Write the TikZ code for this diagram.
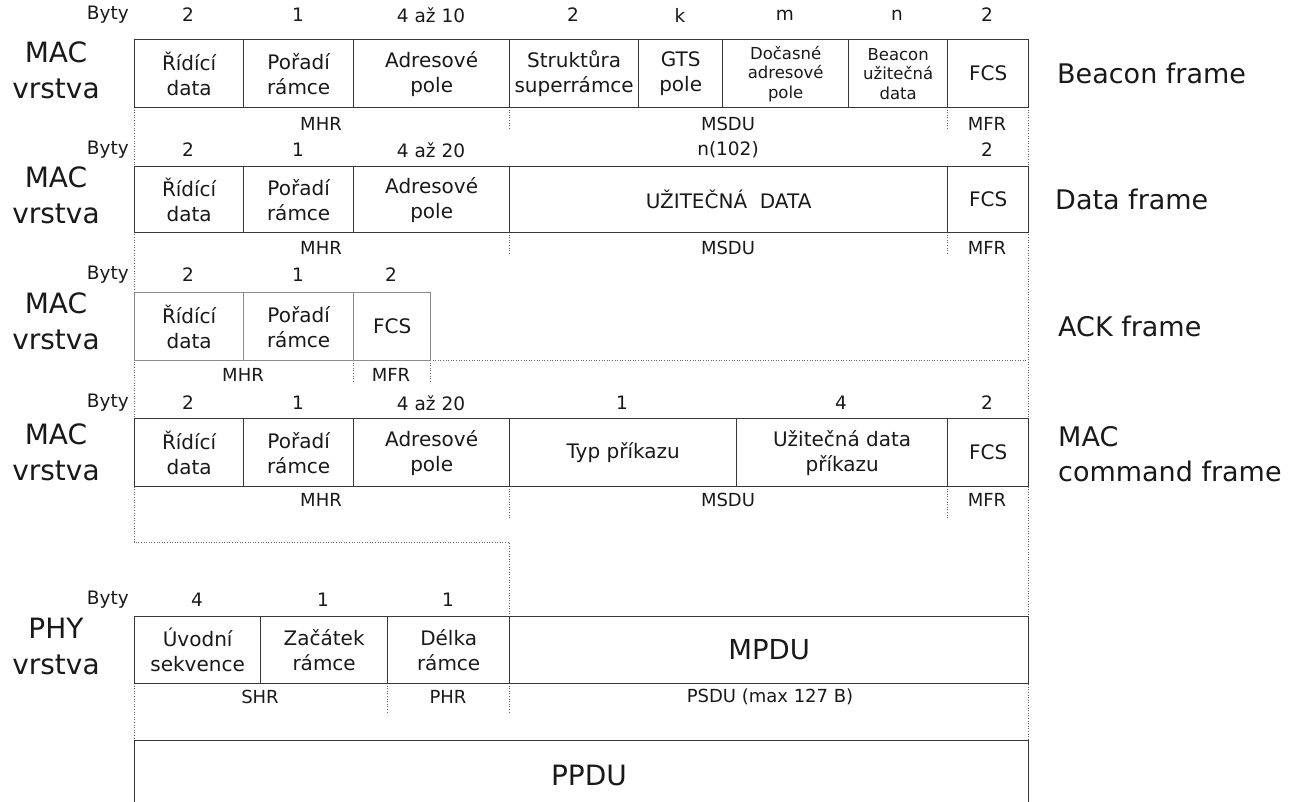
\documentclass[tikz,border=0pt]{standalone}
\usepackage{fontspec}
\setmainfont{DejaVu Sans}
\tikzset{
  fld/.style={draw=black!78, line width=1.3pt, inner sep=0pt, align=center,
    font=\fontsize{20}{25}\selectfont, anchor=north west, text=black!90},
  numtxt/.style={font=\fontsize{18.5}{20}\selectfont, inner sep=0pt, text=black!90},
  labtxt/.style={font=\fontsize{18}{20}\selectfont, inner sep=0pt, text=black!90},
  layer/.style={font=\fontsize{28}{36}\selectfont, align=center, inner sep=0pt, text=black!90},
  side/.style={font=\fontsize{27}{35}\selectfont, align=left, anchor=west, inner sep=0pt, text=black!90},
  guide/.style={draw=black!60, line width=1pt, dash pattern=on 1pt off 1.6pt},
  smallfld/.style={font=\fontsize{16.5}{19.5}\selectfont},
  bigfld/.style={font=\fontsize{27.5}{30}\selectfont},
}
\newcommand\fieldbox[7][]{%
  \pgfmathsetmacro\fw{#4-#3}\pgfmathsetmacro\fh{#6-#5}%
  \node[fld,#1,minimum width=\fw pt,minimum height=\fh pt] (#2) at (#3,#5) {#7};}
\begin{document}
\begin{tikzpicture}[x=1pt,y=-1pt]
\useasboundingbox (0,0) rectangle (1290,801);

% ---------- dotted guide lines ----------
\coordinate (gL1) at (134,107);
\coordinate (gL2) at (134,542);
\coordinate (gL3) at (509,542);
\coordinate (gL4) at (509,616);
\draw[guide] (gL1) -- (gL2) -- (gL3) -- (gL4);
\coordinate (gR1) at (1028,107);
\coordinate (gR2) at (1028,740);
\draw[guide] (gR1) -- (gR2);
\coordinate (gA1) at (430,360);
\coordinate (gA2) at (1028,360);
\draw[guide] (gA1) -- (gA2);
\draw[guide] (353,360) -- (353,382);
\draw[guide] (430,360) -- (430,382);
\draw[guide] (509,107) -- (509,130);
\draw[guide] (947,107) -- (947,130);
\draw[guide] (509,232) -- (509,255);
\draw[guide] (947,232) -- (947,255);
\draw[guide] (509,486) -- (509,518);
\draw[guide] (947,486) -- (947,518);
\draw[guide] (134,683) -- (134,740);
\draw[guide] (387,683) -- (387,713);
\draw[guide] (509,683) -- (509,713);

% ---------- Beacon frame ----------
\node[numtxt,anchor=east] (by1) at (129,15) {Byty};
\node[numtxt] (n11) at (188,15) {2};
\node[numtxt] (n12) at (298,15) {1};
\node[numtxt] (n13) at (431,15) {4 až 10};
\node[numtxt] (n14) at (573,15) {2};
\node[numtxt] (n15) at (680,15) {k};
\node[numtxt] (n16) at (785,15) {m};
\node[numtxt] (n17) at (897,15) {n};
\node[numtxt] (n18) at (987,15) {2};
\node[layer] (L1) at (56,70) {MAC\\vrstva};
\fieldbox{a1}{134}{243}{39}{107}{Řídící\\data}
\fieldbox{a2}{243}{353}{39}{107}{Pořadí\\rámce}
\fieldbox{a3}{353}{509}{39}{107}{Adresové\\pole}
\fieldbox{a4}{509}{638}{39}{107}{Struktůra\\superrámce}
\fieldbox{a5}{638}{722}{39}{107}{GTS\\pole}
\fieldbox[smallfld]{a6}{722}{848}{39}{107}{Dočasné\\adresové\\pole}
\fieldbox[smallfld]{a7}{848}{947}{39}{107}{Beacon\\užitečná\\data}
\fieldbox{a8}{947}{1028}{39}{107}{FCS}
\node[labtxt] (m11) at (321,124) {MHR};
\node[labtxt] (m12) at (728,124) {MSDU};
\node[labtxt] (m13) at (987,124) {MFR};
\node[side] (s1) at (1057,73) {Beacon frame};

% ---------- Data frame ----------
\node[numtxt,anchor=east] (by2) at (129,150) {Byty};
\node[numtxt] (n21) at (188,150) {2};
\node[numtxt] (n22) at (298,150) {1};
\node[numtxt] (n23) at (431,150) {4 až 20};
\node[numtxt] (n24) at (728,150) {n(102)};
\node[numtxt] (n25) at (987,150) {2};
\node[layer] (L2) at (56,195) {MAC\\vrstva};
\fieldbox{b1}{134}{243}{166}{232}{Řídící\\data}
\fieldbox{b2}{243}{353}{166}{232}{Pořadí\\rámce}
\fieldbox{b3}{353}{509}{166}{232}{Adresové\\pole}
\fieldbox{b4}{509}{947}{166}{232}{UŽITEČNÁ\ \ DATA}
\fieldbox{b5}{947}{1028}{166}{232}{FCS}
\node[labtxt] (m21) at (321,248) {MHR};
\node[labtxt] (m22) at (728,248) {MSDU};
\node[labtxt] (m23) at (987,248) {MFR};
\node[side] (s2) at (1055,199) {Data frame};

% ---------- ACK frame ----------
\node[numtxt,anchor=east] (by3) at (129,275) {Byty};
\node[numtxt] (n31) at (188,275) {2};
\node[numtxt] (n32) at (298,275) {1};
\node[numtxt] (n33) at (391,275) {2};
\node[layer] (L3) at (56,321) {MAC\\vrstva};
\fieldbox[draw=black!45]{c1}{134}{243}{292}{360}{Řídící\\data}
\fieldbox[draw=black!45]{c2}{243}{353}{292}{360}{Pořadí\\rámce}
\fieldbox[draw=black!45]{c3}{353}{430}{292}{360}{FCS}
\node[labtxt] (m31) at (243,375) {MHR};
\node[labtxt] (m32) at (391,375) {MFR};
\node[side] (s3) at (1058,326) {ACK frame};

% ---------- MAC command frame ----------
\node[numtxt,anchor=east] (by4) at (129,403) {Byty};
\node[numtxt] (n41) at (188,403) {2};
\node[numtxt] (n42) at (298,403) {1};
\node[numtxt] (n43) at (431,403) {4 až 20};
\node[numtxt] (n44) at (622,403) {1};
\node[numtxt] (n45) at (841,403) {4};
\node[numtxt] (n46) at (987,403) {2};
\node[layer] (L4) at (56,452) {MAC\\vrstva};
\fieldbox{d1}{134}{243}{418}{486}{Řídící\\data}
\fieldbox{d2}{243}{353}{418}{486}{Pořadí\\rámce}
\fieldbox{d3}{353}{509}{418}{486}{Adresové\\pole}
\fieldbox{d4}{509}{736}{418}{486}{Typ příkazu}
\fieldbox{d5}{736}{947}{418}{486}{Užitečná data\\příkazu}
\fieldbox{d6}{947}{1028}{418}{486}{FCS}
\node[labtxt] (m41) at (321,500) {MHR};
\node[labtxt] (m42) at (728,500) {MSDU};
\node[labtxt] (m43) at (987,500) {MFR};
\node[side] (s4) at (1058,454) {MAC\\command frame};

% ---------- PHY ----------
\node[numtxt,anchor=east] (by5) at (129,600) {Byty};
\node[numtxt] (n51) at (197,600) {4};
\node[numtxt] (n52) at (323,600) {1};
\node[numtxt] (n53) at (448,600) {1};
\node[layer] (L5) at (56,646) {PHY\\vrstva};
\fieldbox{e1}{134}{260}{616}{683}{Úvodní\\sekvence}
\fieldbox{e2}{260}{387}{616}{683}{Začátek\\rámce}
\fieldbox{e3}{387}{509}{616}{683}{Délka\\rámce}
\fieldbox[bigfld]{e4}{509}{1028}{616}{683}{MPDU}
\node[labtxt] (m51) at (260,697) {SHR};
\node[labtxt] (m52) at (448,697) {PHR};
\node[labtxt] (m53) at (770,697) {PSDU (max 127 B)};
\fieldbox{f1}{134}{1028}{740}{815}{}
\node[font=\fontsize{28}{30}\selectfont, inner sep=0pt, text=black!90] (pp) at (589,775) {PPDU};
\end{tikzpicture}
\end{document}
